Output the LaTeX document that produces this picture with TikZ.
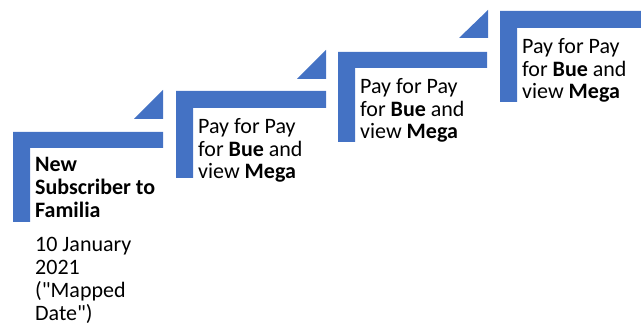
\documentclass[tikz,border=0pt]{standalone}
\usepackage{fontspec}
\setmainfont{Carlito}[Ligatures=TeXOff]
\usepackage{xcolor}
\usepackage{tikz}
\definecolor{stepblue}{RGB}{68,114,196}

\begin{document}
\begin{tikzpicture}[x=1pt, y=1pt, every node/.style={font=\fontsize{22}{22.8}\selectfont, align=left, inner sep=0pt, anchor=base west}]
            \useasboundingbox (0,0) rectangle (641,323);
            \clip (0,0) rectangle (641,323);
            % steps
            \fill[stepblue] (13,191) -- (163,191) -- (163,175) -- (30,175) -- (30,101) -- (13,101) -- cycle;
            \fill[stepblue] (134,204) -- (163,233) -- (163,204) -- cycle;
            \fill[stepblue] (176,232) -- (326,232) -- (326,215) -- (193,215) -- (193,145) -- (176,145) -- cycle;
            \fill[stepblue] (297,244) -- (326,273) -- (326,244) -- cycle;
            \fill[stepblue] (338,271) -- (487,271) -- (487,255) -- (355,255) -- (355,181) -- (338,181) -- cycle;
            \fill[stepblue] (459,285) -- (488,313) -- (488,285) -- cycle;
            \fill[stepblue] (500,312) -- (650,312) -- (650,295) -- (517,295) -- (517,221) -- (500,221) -- cycle;
            % labels (base = last line)
            \node (subscriber) at (35,105.7) {\textbf{New}\\\textbf{Subscriber to}\\\textbf{Familia}};
            \node (mapdate) at (35,2.9) {10 January\\2021\\("Mapped\\Date")};
            \node (payone) at (198,144.1) {Pay for Pay\\for \textbf{Bue} and\\view \textbf{Mega}};
            \node (paytwo) at (360,184.1) {Pay for Pay\\for \textbf{Bue} and\\view \textbf{Mega}};
            \node (paythree) at (522,224.1) {Pay for Pay\\for \textbf{Bue} and\\view \textbf{Mega}};
        \end{tikzpicture}
\end{document}
